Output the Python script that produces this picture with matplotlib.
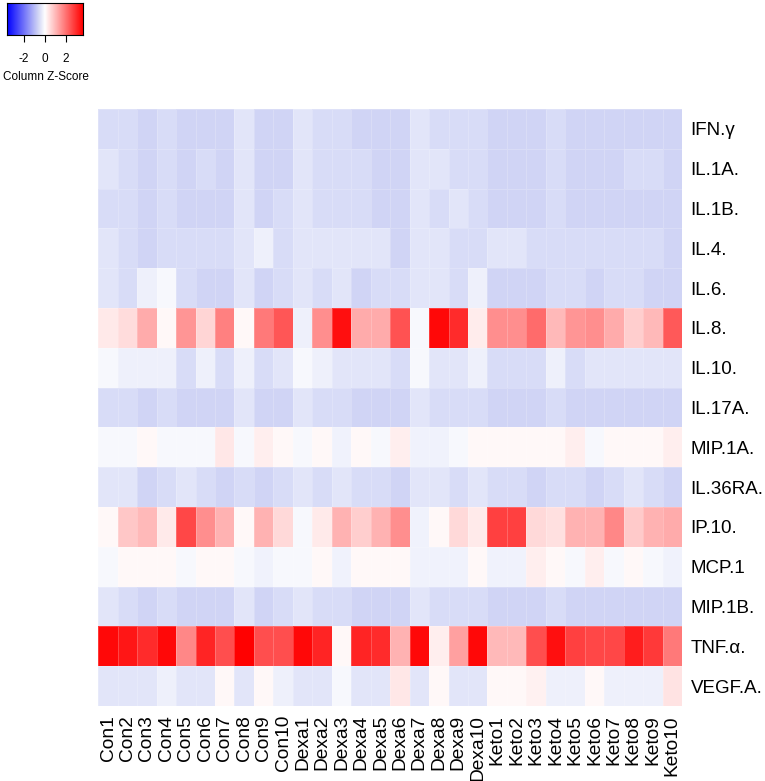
import numpy as np
import matplotlib
matplotlib.use("Agg")
import matplotlib.pyplot as plt
from matplotlib.colors import LinearSegmentedColormap

plt.rcParams['font.family'] = ['Liberation Sans', 'DejaVu Sans']

samples = [f"Con{i}" for i in range(1, 11)] + [f"Dexa{i}" for i in range(1, 11)] + [f"Keto{i}" for i in range(1, 11)]
cytokines = ["IFN.γ", "IL.1A.", "IL.1B.", "IL.4.", "IL.6.", "IL.8.", "IL.10.", "IL.17A.",
             "MIP.1A.", "IL.36RA.", "IP.10.", "MCP.1", "MIP.1B.", "TNF.α.", "VEGF.A."]

B3, B2, B1, B0, W, P = -0.66, -0.55, -0.40, -0.23, -0.10, 0.10

ifn_g   = [B2, B2, B3, B2, B3, B3, B3, B1, B3, B3,  B1, B2, B2, B3, B3, B3, B1, B2, B2, B2,  B3, B3, B3, B2, B3, B3, B3, B3, B3, B3]
il_1a   = [B1, B2, B3, B2, B3, B2, B3, B1, B3, B3,  B1, B2, B2, B2, B3, B3, B1, B1, B2, B2,  B3, B3, B3, B2, B3, B3, B3, B2, B2, B3]
il_1b   = [B2, B2, B3, B2, B3, B3, B3, B1, B3, B2,  B1, B2, B2, B2, B3, B3, B1, B2, B1, B2,  B3, B3, B3, B2, B3, B3, B3, B3, B3, B3]
il_4    = [B1, B2, B3, B2, B2, B2, B2, B1, B0, B2,  B1, B1, B1, B1, B1, B3, B1, B1, B2, B2,  B1, B1, B2, B2, B2, B2, B2, B2, B2, B3]
il_6    = [B1, B2, B0, W,  B2, B3, B3, B1, B3, B2,  B1, B2, B1, B3, B2, B2, B1, B1, B2, B0,  B3, B3, B3, B2, B2, B3, B2, B2, B3, B3]
il_8    = [0.32, 0.5, 1.2, P, 1.5, 0.6, 1.8, P, 1.9, 2.4,  B0, 1.6, 3.4, 1.2, 1.2, 2.45, W, 3.5, 3.0, 0.27,
           1.6, 1.6, 2.1, 1.0, 1.5, 1.6, 1.2, 0.7, 1.0, 2.35]
il_10   = [W,  B0, B0, B0, B2, B0, B2, B0, B2, B1,  W,  B0, B1, B1, B1, B2, W,  B1, B1, B0,  B2, B2, B2, B0, B2, B1, B1, B1, B1, B1]
il_17a  = [B2, B2, B3, B2, B3, B3, B3, B1, B3, B3,  B1, B2, B2, B3, B3, B3, B1, B2, B2, B2,  B3, B3, B3, B2, B3, B3, B3, B3, B3, B3]
mip_1a  = [W, W, P, W, W, W, 0.35, W, 0.25, P,  W, P, -0.2, P, W, 0.25, -0.2, -0.2, W, P,  P, P, P, P, 0.25, W, P, P, P, 0.25]
il_36ra = [B1, B1, B3, B2, B1, B2, B3, B2, B3, B2,  B1, B2, B1, B2, B2, B3, B1, B1, B2, B1,  B2, B2, B3, B2, B2, B3, B2, B1, B2, B3]
ip_10   = [P, 0.8, 1.0, 0.3, 2.6, 1.6, 1.1, P, 1.1, 0.55,  W, 0.3, 1.1, 0.7, 1.1, 1.6, -0.2, P, 0.55, 0.3,
           2.7, 2.7, 0.55, 0.45, 1.1, 1.1, 1.7, 0.75, 1.1, 1.2]
mcp_1   = [W, P, P, P, W, P, P, W, -0.2, W,  W, P, -0.2, P, P, P, -0.2, -0.2, -0.2, P,  -0.2, -0.2, 0.25, P, W, 0.25, W, P, W, -0.2]
mip_1b  = [B1, B2, B3, B2, B3, B3, B3, B1, B3, B2,  B1, B2, B2, B3, B3, B3, B1, B2, B2, B2,  B3, B3, B3, B2, B3, B3, B3, B3, B3, B3]
tnf_a   = [3.5, 3.3, 3.0, 3.5, 1.7, 3.1, 2.5, 3.6, 2.5, 2.5,  3.5, 3.1, P, 3.1, 3.0, 1.1, 3.5, 0.25, 1.35, 3.5,
           1.0, 1.0, 2.5, 3.4, 2.7, 2.6, 2.6, 3.2, 2.8, 1.9]
vegf_a  = [B1, B1, B1, B0, B1, B1, P, B1, P, B0,  B1, B1, W, B1, B1, 0.35, B1, P, B1, B1,  P, P, 0.2, B0, B0, P, B0, B0, B0, 0.4]

zmax = 3.615
data = np.array([ifn_g, il_1a, il_1b, il_4, il_6, il_8, il_10, il_17a,
                 mip_1a, il_36ra, ip_10, mcp_1, mip_1b, tnf_a, vegf_a])

cmap = LinearSegmentedColormap.from_list(
    "bluered", [(0.0, "#0000ff"), (0.5 - 0.66 / (2 * zmax), "#d0d4f5"), (0.5, "#ffffff"), (1.0, "#ff0000")], N=512)

W_PX, H_PX = 765, 781
fig = plt.figure(figsize=(W_PX / 100, H_PX / 100), dpi=100)

def ax_rect(x0, y0, x1, y1):
    return [x0 / W_PX, 1 - y1 / H_PX, (x1 - x0) / W_PX, (y1 - y0) / H_PX]

ax = fig.add_axes(ax_rect(98.3, 109, 682, 706))
ax.pcolormesh(np.arange(31), np.arange(16), data, cmap=cmap, vmin=-zmax, vmax=zmax,
              edgecolors=(1, 1, 1, 0.2), linewidth=0.4)
ax.set_xlim(0, 30)
ax.set_ylim(15, 0)
for s in ax.spines.values():
    s.set_visible(False)
ax.set_xticks(np.arange(30) + 0.5)
ax.set_xticklabels(samples, rotation=90, fontsize=13.8, va='top', ha='center')
ax.yaxis.tick_right()
ax.set_yticks(np.arange(15) + 0.5)
ax.set_yticklabels(cytokines, fontsize=13.5)
ax.tick_params(axis='x', length=0, pad=6.5)
ax.tick_params(axis='y', length=0, pad=6.3)

# color key
cax = fig.add_axes(ax_rect(7, 3, 83, 35))
grad = np.linspace(-zmax, zmax, 256).reshape(1, -1)
cax.imshow(grad, cmap=cmap, vmin=-zmax, vmax=zmax, aspect='auto',
           extent=[-zmax, zmax, 0, 1])
cax.set_xlim(-zmax, zmax)
cax.set_yticks([])
cax.set_xticks([-2, 0, 2])
cax.set_xticklabels(["-2", "0", "2"], fontsize=8.5)
cax.tick_params(axis='x', length=5, width=0.8, pad=8)
for s in cax.spines.values():
    s.set_linewidth(0.8)
fig.text(46 / W_PX, 1 - 77 / H_PX, "Column Z-Score", fontsize=8.5, ha='center', va='center')

fig.savefig("out.png", dpi=100)
